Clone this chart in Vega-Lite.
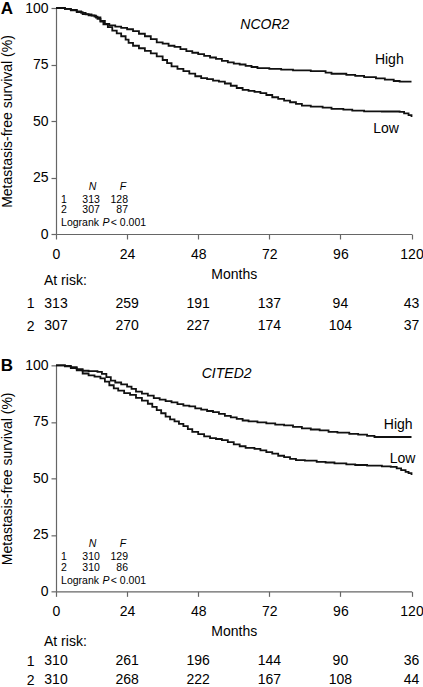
{
  "$schema": "https://vega.github.io/schema/vega-lite/v6.json",
  "padding": {"left": 0, "top": 0, "right": 0, "bottom": 0},
  "background": "white",
  "datasets": {
    "curvesA": [
      {"group":"High","month":0,"survival":100},{"group":"High","month":3,"survival":99.6},{"group":"High","month":5,"survival":99.2},{"group":"High","month":7,"survival":98.5},{"group":"High","month":8.5,"survival":97.8},{"group":"High","month":10,"survival":97.2},{"group":"High","month":12,"survival":96.6},{"group":"High","month":13.5,"survival":95.8},{"group":"High","month":15,"survival":94.3},{"group":"High","month":16.5,"survival":93},{"group":"High","month":18,"survival":92.3},{"group":"High","month":20,"survival":91.8},{"group":"High","month":22,"survival":91.2},{"group":"High","month":24,"survival":90.6},{"group":"High","month":26,"survival":89.8},{"group":"High","month":28,"survival":88.6},{"group":"High","month":30,"survival":87.5},{"group":"High","month":32,"survival":86.2},{"group":"High","month":34,"survival":84.8},{"group":"High","month":36,"survival":84.2},{"group":"High","month":38,"survival":83.3},{"group":"High","month":40,"survival":82.8},{"group":"High","month":42,"survival":81.8},{"group":"High","month":44,"survival":80.9},{"group":"High","month":46,"survival":80.2},{"group":"High","month":48,"survival":79.6},{"group":"High","month":50,"survival":78.8},{"group":"High","month":52,"survival":78.1},{"group":"High","month":54,"survival":77.5},{"group":"High","month":56,"survival":76.6},{"group":"High","month":58,"survival":75.9},{"group":"High","month":60,"survival":75.4},{"group":"High","month":62,"survival":75.0},{"group":"High","month":64,"survival":74.4},{"group":"High","month":66,"survival":73.9},{"group":"High","month":68,"survival":73.4},{"group":"High","month":72,"survival":73.1},{"group":"High","month":76,"survival":72.7},{"group":"High","month":80,"survival":72.4},{"group":"High","month":86,"survival":72.1},{"group":"High","month":91,"survival":71.4},{"group":"High","month":93,"survival":70.9},{"group":"High","month":98,"survival":70.4},{"group":"High","month":101,"survival":70.0},{"group":"High","month":104,"survival":69.4},{"group":"High","month":108,"survival":68.9},{"group":"High","month":111,"survival":68.3},{"group":"High","month":114,"survival":67.7},{"group":"High","month":116,"survival":67.4},{"group":"High","month":120,"survival":67.4},
      {"group":"Low","month":0,"survival":100},{"group":"Low","month":3,"survival":99.6},{"group":"Low","month":5,"survival":99.0},{"group":"Low","month":7,"survival":98.2},{"group":"Low","month":9,"survival":97.3},{"group":"Low","month":11,"survival":96.7},{"group":"Low","month":13,"survival":96.2},{"group":"Low","month":14,"survival":95.2},{"group":"Low","month":15,"survival":94.0},{"group":"Low","month":16,"survival":92.8},{"group":"Low","month":17.5,"survival":91.5},{"group":"Low","month":19,"survival":90.0},{"group":"Low","month":20.5,"survival":88.8},{"group":"Low","month":22,"survival":87.5},{"group":"Low","month":23.5,"survival":86.0},{"group":"Low","month":24.5,"survival":84.6},{"group":"Low","month":26,"survival":83.3},{"group":"Low","month":28,"survival":82.2},{"group":"Low","month":30,"survival":81.0},{"group":"Low","month":32,"survival":79.9},{"group":"Low","month":34,"survival":78.6},{"group":"Low","month":36,"survival":77.0},{"group":"Low","month":37.5,"survival":75.6},{"group":"Low","month":39,"survival":74.2},{"group":"Low","month":41,"survival":73.1},{"group":"Low","month":43,"survival":72.1},{"group":"Low","month":45,"survival":71.0},{"group":"Low","month":47,"survival":69.8},{"group":"Low","month":49,"survival":69.0},{"group":"Low","month":51,"survival":68.5},{"group":"Low","month":53,"survival":67.9},{"group":"Low","month":55,"survival":67.4},{"group":"Low","month":57,"survival":66.6},{"group":"Low","month":59,"survival":65.6},{"group":"Low","month":61,"survival":64.6},{"group":"Low","month":63,"survival":63.8},{"group":"Low","month":65,"survival":63.3},{"group":"Low","month":67,"survival":62.9},{"group":"Low","month":69,"survival":62.3},{"group":"Low","month":71,"survival":61.5},{"group":"Low","month":73,"survival":60.5},{"group":"Low","month":75,"survival":59.8},{"group":"Low","month":77,"survival":59.0},{"group":"Low","month":79,"survival":58.3},{"group":"Low","month":81,"survival":57.6},{"group":"Low","month":83,"survival":56.8},{"group":"Low","month":86,"survival":56.4},{"group":"Low","month":90,"survival":55.9},{"group":"Low","month":93,"survival":55.4},{"group":"Low","month":97,"survival":55.0},{"group":"Low","month":100,"survival":54.6},{"group":"Low","month":104,"survival":54.3},{"group":"Low","month":110,"survival":54.2},{"group":"Low","month":116,"survival":54.0},{"group":"Low","month":117.5,"survival":53.4},{"group":"Low","month":119,"survival":52.6},{"group":"Low","month":120,"survival":51.8}
    ],
    "curvesB": [
      {"group":"High","month":0,"survival":100},{"group":"High","month":3,"survival":99.7},{"group":"High","month":5,"survival":99.2},{"group":"High","month":7,"survival":98.3},{"group":"High","month":9,"survival":97.6},{"group":"High","month":11,"survival":97.4},{"group":"High","month":14,"survival":97.1},{"group":"High","month":15.5,"survival":96.2},{"group":"High","month":17,"survival":94.8},{"group":"High","month":18.5,"survival":93.2},{"group":"High","month":20,"survival":92.4},{"group":"High","month":22,"survival":91.6},{"group":"High","month":24,"survival":90.6},{"group":"High","month":25.5,"survival":89.6},{"group":"High","month":27,"survival":88.4},{"group":"High","month":29,"survival":87.5},{"group":"High","month":31,"survival":86.6},{"group":"High","month":33,"survival":85.5},{"group":"High","month":35,"survival":84.8},{"group":"High","month":37,"survival":84.2},{"group":"High","month":39,"survival":83.6},{"group":"High","month":41,"survival":82.8},{"group":"High","month":43,"survival":82.2},{"group":"High","month":45,"survival":81.8},{"group":"High","month":47,"survival":81.0},{"group":"High","month":49,"survival":80.4},{"group":"High","month":51,"survival":79.8},{"group":"High","month":53,"survival":79.3},{"group":"High","month":55,"survival":78.5},{"group":"High","month":57,"survival":77.6},{"group":"High","month":59,"survival":77.0},{"group":"High","month":61,"survival":76.3},{"group":"High","month":63,"survival":75.6},{"group":"High","month":65,"survival":75.2},{"group":"High","month":68,"survival":74.8},{"group":"High","month":71,"survival":74.3},{"group":"High","month":74,"survival":73.8},{"group":"High","month":77,"survival":73.4},{"group":"High","month":80,"survival":72.8},{"group":"High","month":83,"survival":72.1},{"group":"High","month":86,"survival":71.6},{"group":"High","month":89,"survival":71.2},{"group":"High","month":92,"survival":70.6},{"group":"High","month":95,"survival":70.2},{"group":"High","month":99,"survival":69.7},{"group":"High","month":102,"survival":69.3},{"group":"High","month":105,"survival":68.8},{"group":"High","month":107.5,"survival":68.3},{"group":"High","month":120,"survival":68.3},
      {"group":"Low","month":0,"survival":100},{"group":"Low","month":3,"survival":99.5},{"group":"Low","month":5,"survival":98.8},{"group":"Low","month":7,"survival":97.8},{"group":"Low","month":9,"survival":96.4},{"group":"Low","month":11,"survival":95.6},{"group":"Low","month":13,"survival":95.0},{"group":"Low","month":15,"survival":94.2},{"group":"Low","month":16.5,"survival":92.8},{"group":"Low","month":18,"survival":91.2},{"group":"Low","month":19.5,"survival":89.8},{"group":"Low","month":21,"survival":88.8},{"group":"Low","month":23,"survival":87.7},{"group":"Low","month":25,"survival":86.9},{"group":"Low","month":27,"survival":85.6},{"group":"Low","month":29,"survival":84.4},{"group":"Low","month":31,"survival":83.0},{"group":"Low","month":32.5,"survival":81.6},{"group":"Low","month":34,"survival":80.2},{"group":"Low","month":35.5,"survival":78.8},{"group":"Low","month":37,"survival":77.3},{"group":"Low","month":38.5,"survival":76.1},{"group":"Low","month":40,"survival":75.2},{"group":"Low","month":41.5,"survival":74.1},{"group":"Low","month":43,"survival":73.1},{"group":"Low","month":44.5,"survival":71.8},{"group":"Low","month":46,"survival":70.6},{"group":"Low","month":48,"survival":69.6},{"group":"Low","month":50,"survival":68.6},{"group":"Low","month":52,"survival":67.8},{"group":"Low","month":54,"survival":67.4},{"group":"Low","month":56,"survival":66.9},{"group":"Low","month":58,"survival":66.0},{"group":"Low","month":60,"survival":65.0},{"group":"Low","month":62,"survival":64.2},{"group":"Low","month":64,"survival":63.5},{"group":"Low","month":67,"survival":63.0},{"group":"Low","month":69,"survival":62.4},{"group":"Low","month":71,"survival":61.6},{"group":"Low","month":73,"survival":60.9},{"group":"Low","month":75,"survival":60.0},{"group":"Low","month":77,"survival":59.4},{"group":"Low","month":79,"survival":58.6},{"group":"Low","month":81,"survival":58.1},{"group":"Low","month":84,"survival":57.8},{"group":"Low","month":88,"survival":57.3},{"group":"Low","month":91,"survival":57.0},{"group":"Low","month":94,"survival":56.6},{"group":"Low","month":98,"survival":56.2},{"group":"Low","month":101,"survival":55.9},{"group":"Low","month":105,"survival":55.6},{"group":"Low","month":110,"survival":55.3},{"group":"Low","month":113,"survival":55.1},{"group":"Low","month":115,"survival":54.4},{"group":"Low","month":116.5,"survival":53.6},{"group":"Low","month":118,"survival":52.9},{"group":"Low","month":119,"survival":52.3},{"group":"Low","month":120,"survival":51.5}
    ],
    "labelsA": [
      {"month":70.5,"survival":92.5,"text":"NCOR2","kind":"gene"},
      {"month":112.5,"survival":77,"text":"High","kind":"group"},
      {"month":111.4,"survival":46.5,"text":"Low","kind":"group"}
    ],
    "labelsB": [
      {"month":57.6,"survival":96.3,"text":"CITED2","kind":"gene"},
      {"month":115.5,"survival":73.4,"text":"High","kind":"group"},
      {"month":117,"survival":58.5,"text":"Low","kind":"group"}
    ],
    "statsA": [
      {"month":12.3,"survival":21,"text":"N","kind":"head"},
      {"month":22.6,"survival":21,"text":"F","kind":"head"},
      {"month":1.7,"survival":15.2,"text":"1","kind":"left"},
      {"month":1.7,"survival":10.4,"text":"2","kind":"left"},
      {"month":14.8,"survival":15.2,"text":"313","kind":"right"},
      {"month":14.8,"survival":10.4,"text":"307","kind":"right"},
      {"month":24.3,"survival":15.2,"text":"128","kind":"right"},
      {"month":24.3,"survival":10.4,"text":"87","kind":"right"},
      {"month":1.7,"survival":4.7,"text":"Logrank","kind":"left"},
      {"month":15.7,"survival":4.7,"text":"P","kind":"italic"},
      {"month":18.5,"survival":4.7,"text":"< 0.001","kind":"left"}
    ],
    "statsB": [
      {"month":12.3,"survival":21,"text":"N","kind":"head"},
      {"month":22.6,"survival":21,"text":"F","kind":"head"},
      {"month":1.7,"survival":15.2,"text":"1","kind":"left"},
      {"month":1.7,"survival":10.4,"text":"2","kind":"left"},
      {"month":14.8,"survival":15.2,"text":"310","kind":"right"},
      {"month":14.8,"survival":10.4,"text":"310","kind":"right"},
      {"month":24.3,"survival":15.2,"text":"129","kind":"right"},
      {"month":24.3,"survival":10.4,"text":"86","kind":"right"},
      {"month":1.7,"survival":4.7,"text":"Logrank","kind":"left"},
      {"month":15.7,"survival":4.7,"text":"P","kind":"italic"},
      {"month":18.5,"survival":4.7,"text":"< 0.001","kind":"left"}
    ],
    "riskA": [
      {"month":0,"row":"At risk:","text":"At risk:","kind":"head"},
      {"month":0,"row":"1","text":"313","kind":"n"},{"month":24,"row":"1","text":"259","kind":"n"},{"month":48,"row":"1","text":"191","kind":"n"},{"month":72,"row":"1","text":"137","kind":"n"},{"month":96,"row":"1","text":"94","kind":"n"},{"month":120,"row":"1","text":"43","kind":"n"},
      {"month":0,"row":"2","text":"307","kind":"n"},{"month":24,"row":"2","text":"270","kind":"n"},{"month":48,"row":"2","text":"227","kind":"n"},{"month":72,"row":"2","text":"174","kind":"n"},{"month":96,"row":"2","text":"104","kind":"n"},{"month":120,"row":"2","text":"37","kind":"n"}
    ],
    "riskB": [
      {"month":0,"row":"At risk:","text":"At risk:","kind":"head"},
      {"month":0,"row":"1","text":"310","kind":"n"},{"month":24,"row":"1","text":"261","kind":"n"},{"month":48,"row":"1","text":"196","kind":"n"},{"month":72,"row":"1","text":"144","kind":"n"},{"month":96,"row":"1","text":"90","kind":"n"},{"month":120,"row":"1","text":"36","kind":"n"},
      {"month":0,"row":"2","text":"310","kind":"n"},{"month":24,"row":"2","text":"268","kind":"n"},{"month":48,"row":"2","text":"222","kind":"n"},{"month":72,"row":"2","text":"167","kind":"n"},{"month":96,"row":"2","text":"108","kind":"n"},{"month":120,"row":"2","text":"44","kind":"n"}
    ]
  },
  "bounds": "flush",
  "spacing": 19.67,
  "vconcat": [
    {
      "width": 355.5, "height": 226,
      "title": {"text": "A", "anchor": "start", "frame": "bounds", "fontSize": 17, "fontWeight": "bold", "offset": -17},
      "encoding": {
        "x": {"field": "month", "type": "quantitative", "scale": {"domain": [0, 120], "nice": false}, "axis": {"values": [0, 24, 48, 72, 96, 120], "title": "Months", "labelPadding": 8, "titlePadding": 6, "labelFlush": false}},
        "y": {"field": "survival", "type": "quantitative", "scale": {"domain": [0, 100], "nice": false}, "axis": {"values": [0, 25, 50, 75, 100], "title": "Metastasis-free survival (%)", "labelPadding": 3, "titlePadding": 10}}
      },
      "layer": [
        {"data": {"name": "curvesA"}, "mark": {"type": "line", "interpolate": "step-after", "color": "#111", "strokeWidth": 1.8}, "encoding": {"detail": {"field": "group"}}},
        {"data": {"name": "labelsA"}, "transform": [{"filter": "datum.kind == 'gene'"}], "mark": {"type": "text", "fontSize": 14, "fontStyle": "italic", "color": "#000"}, "encoding": {"text": {"field": "text"}}},
        {"data": {"name": "labelsA"}, "transform": [{"filter": "datum.kind == 'group'"}], "mark": {"type": "text", "fontSize": 14, "color": "#000"}, "encoding": {"text": {"field": "text"}}},
        {"data": {"name": "statsA"}, "transform": [{"filter": "datum.kind == 'head'"}], "mark": {"type": "text", "fontSize": 10.5, "fontStyle": "italic", "color": "#000"}, "encoding": {"text": {"field": "text"}}},
        {"data": {"name": "statsA"}, "transform": [{"filter": "datum.kind == 'left'"}], "mark": {"type": "text", "fontSize": 10.5, "align": "left", "color": "#000"}, "encoding": {"text": {"field": "text"}}},
        {"data": {"name": "statsA"}, "transform": [{"filter": "datum.kind == 'right'"}], "mark": {"type": "text", "fontSize": 10.5, "align": "right", "color": "#000"}, "encoding": {"text": {"field": "text"}}},
        {"data": {"name": "statsA"}, "transform": [{"filter": "datum.kind == 'italic'"}], "mark": {"type": "text", "fontSize": 10.5, "align": "left", "fontStyle": "italic", "color": "#000"}, "encoding": {"text": {"field": "text"}}}
      ]
    },
    {
      "width": 355.5, "height": 91.67,
      "data": {"name": "riskA"},
      "encoding": {
        "x": {"field": "month", "type": "quantitative", "scale": {"domain": [0, 120], "nice": false}, "axis": null},
        "y": {"field": "row", "type": "nominal", "sort": null, "scale": {"type": "point", "domain": ["At risk:", "1", "2"], "padding": 1.5, "align": 0.588}, "axis": {"title": null, "domain": false, "ticks": false, "labelPadding": 22, "labelFontSize": 14, "labelColor": "#000", "labelExpr": "datum.value == 'At risk:' ? '' : datum.value"}},
        "text": {"field": "text"}
      },
      "layer": [
        {"transform": [{"filter": "datum.kind == 'n'"}], "mark": {"type": "text", "fontSize": 14, "color": "#000"}},
        {"transform": [{"filter": "datum.kind == 'head'"}], "mark": {"type": "text", "fontSize": 14, "align": "left", "dx": -12, "color": "#000"}}
      ]
    },
    {
      "width": 355.5, "height": 226,
      "title": {"text": "B", "anchor": "start", "frame": "bounds", "fontSize": 17, "fontWeight": "bold", "offset": -17},
      "encoding": {
        "x": {"field": "month", "type": "quantitative", "scale": {"domain": [0, 120], "nice": false}, "axis": {"values": [0, 24, 48, 72, 96, 120], "title": "Months", "labelPadding": 8, "titlePadding": 6, "labelFlush": false}},
        "y": {"field": "survival", "type": "quantitative", "scale": {"domain": [0, 100], "nice": false}, "axis": {"values": [0, 25, 50, 75, 100], "title": "Metastasis-free survival (%)", "labelPadding": 3, "titlePadding": 10}}
      },
      "layer": [
        {"data": {"name": "curvesB"}, "mark": {"type": "line", "interpolate": "step-after", "color": "#111", "strokeWidth": 1.8}, "encoding": {"detail": {"field": "group"}}},
        {"data": {"name": "labelsB"}, "transform": [{"filter": "datum.kind == 'gene'"}], "mark": {"type": "text", "fontSize": 14, "fontStyle": "italic", "color": "#000"}, "encoding": {"text": {"field": "text"}}},
        {"data": {"name": "labelsB"}, "transform": [{"filter": "datum.kind == 'group'"}], "mark": {"type": "text", "fontSize": 14, "color": "#000"}, "encoding": {"text": {"field": "text"}}},
        {"data": {"name": "statsB"}, "transform": [{"filter": "datum.kind == 'head'"}], "mark": {"type": "text", "fontSize": 10.5, "fontStyle": "italic", "color": "#000"}, "encoding": {"text": {"field": "text"}}},
        {"data": {"name": "statsB"}, "transform": [{"filter": "datum.kind == 'left'"}], "mark": {"type": "text", "fontSize": 10.5, "align": "left", "color": "#000"}, "encoding": {"text": {"field": "text"}}},
        {"data": {"name": "statsB"}, "transform": [{"filter": "datum.kind == 'right'"}], "mark": {"type": "text", "fontSize": 10.5, "align": "right", "color": "#000"}, "encoding": {"text": {"field": "text"}}},
        {"data": {"name": "statsB"}, "transform": [{"filter": "datum.kind == 'italic'"}], "mark": {"type": "text", "fontSize": 10.5, "align": "left", "fontStyle": "italic", "color": "#000"}, "encoding": {"text": {"field": "text"}}}
      ]
    },
    {
      "width": 355.5, "height": 77,
      "data": {"name": "riskB"},
      "encoding": {
        "x": {"field": "month", "type": "quantitative", "scale": {"domain": [0, 120], "nice": false}, "axis": null},
        "y": {"field": "row", "type": "nominal", "sort": null, "scale": {"type": "point", "domain": ["At risk:", "1", "2"], "padding": 1.1, "align": 0.8017}, "axis": {"title": null, "domain": false, "ticks": false, "labelPadding": 22, "labelFontSize": 14, "labelColor": "#000", "labelExpr": "datum.value == 'At risk:' ? '' : datum.value"}},
        "text": {"field": "text"}
      },
      "layer": [
        {"transform": [{"filter": "datum.kind == 'n'"}], "mark": {"type": "text", "fontSize": 14, "color": "#000"}},
        {"transform": [{"filter": "datum.kind == 'head'"}], "mark": {"type": "text", "fontSize": 14, "align": "left", "dx": -12, "color": "#000"}}
      ]
    }
  ],
  "config": {
    "font": "Liberation Sans",
    "view": {"stroke": null},
    "title": {"font": "Liberation Sans", "color": "#000"},
    "text": {"font": "Liberation Sans"},
    "axis": {
      "grid": false,
      "domainColor": "#666",
      "tickColor": "#666",
      "domainWidth": 1.2,
      "tickWidth": 1.2,
      "tickSize": 5,
      "labelColor": "#000",
      "titleColor": "#000",
      "labelFont": "Liberation Sans",
      "titleFont": "Liberation Sans",
      "labelFontSize": 14,
      "titleFontSize": 14,
      "titleFontWeight": "normal"
    }
  }
}
